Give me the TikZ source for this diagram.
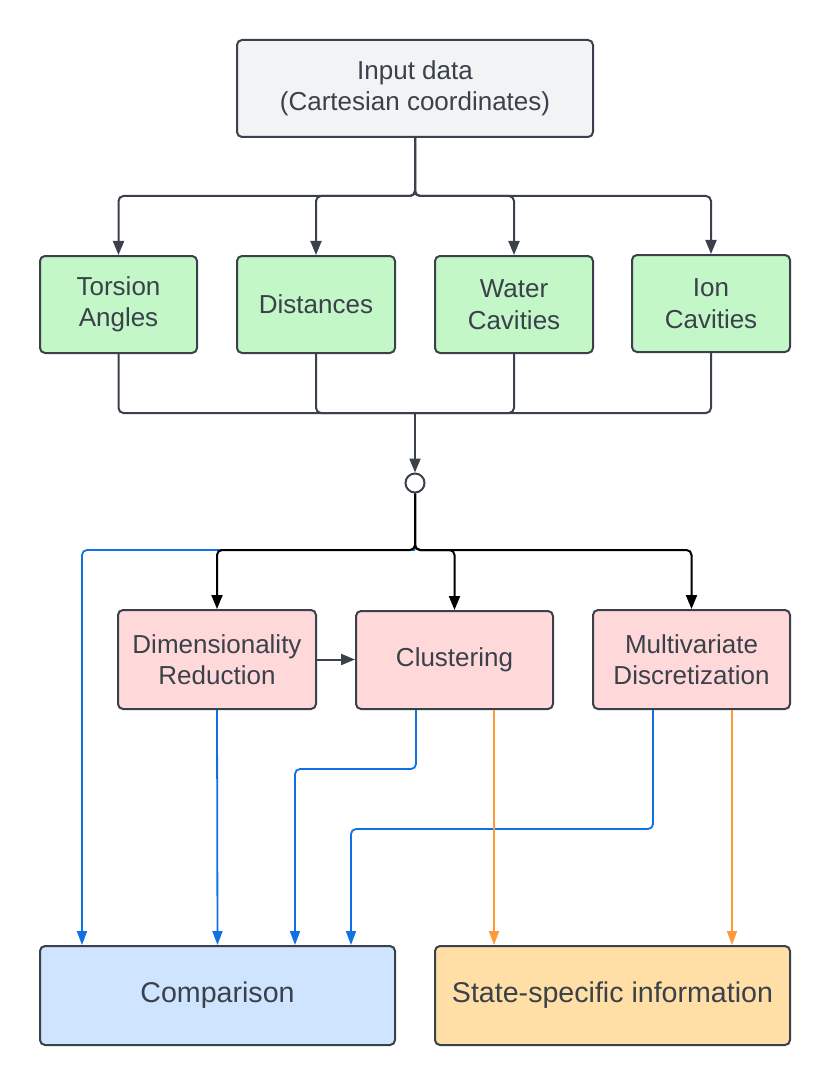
\documentclass[tikz,border=0pt]{standalone}
\usepackage{fontspec}
\setmainfont{Liberation Sans}
\usetikzlibrary{arrows.meta,calc}
\definecolor{strk}{HTML}{3A414A}
\definecolor{fin}{HTML}{F2F3F5}
\definecolor{fgreen}{HTML}{C3F7C8}
\definecolor{fred}{HTML}{FFD9D9}
\definecolor{fblue}{HTML}{CFE4FF}
\definecolor{forange}{HTML}{FFDFA6}
\definecolor{lblue}{HTML}{1071E5}
\definecolor{lorange}{HTML}{FF9A38}
\tikzset{
  box/.style={draw=strk, line width=2pt, rounded corners=5pt, align=center, text=strk,
    font=\fontsize{26}{31.5}\selectfont, inner sep=0pt},
  bigbox/.style={box, font=\fontsize{28.6}{34}\selectfont},
  conn/.style={draw=strk, line width=2pt, rounded corners=5pt, -{Triangle[length=14pt,width=11pt]}},
  conk/.style={conn, draw=black},
  conb/.style={conn, draw=lblue, line width=1.8pt, -{Triangle[length=14pt,width=10pt]}},
  cono/.style={conn, draw=lorange, line width=1.8pt, -{Triangle[length=14pt,width=10pt]}},
}
\begin{document}
\begin{tikzpicture}[x=1pt,y=-1pt]
\useasboundingbox (0,0) rectangle (830,1083);
\node[box, fill=fin, minimum width=356pt, minimum height=97pt] (in) at (415,88.5) {Input data\\(Cartesian coordinates)};
\node[box, fill=fgreen, minimum width=157pt, minimum height=97pt] (tor) at (118.5,304.5) {Torsion\\Angles};
\node[box, fill=fgreen, minimum width=158pt, minimum height=97pt] (dis) at (316,304.5) {Distances};
\node[box, fill=fgreen, minimum width=158pt, minimum height=97pt] (wat) at (514,304.5) {Water\\Cavities};
\node[box, fill=fgreen, minimum width=158pt, minimum height=97pt] (ion) at (711,303.5) {Ion\\Cavities};
\node[draw=strk, line width=2pt, circle, fill=white, minimum size=19pt, inner sep=0pt] (c) at (415,483) {};
\node[box, fill=fred, minimum width=198pt, minimum height=99pt] (dim) at (217,659.5) {Dimensionality\\Reduction};
\node[box, fill=fred, minimum width=197pt, minimum height=98pt] (clu) at (454.5,660) {Clustering};
\node[box, fill=fred, minimum width=197pt, minimum height=99pt] (mul) at (691.5,659.5) {Multivariate\\Discretization};
\node[bigbox, fill=fblue, minimum width=355pt, minimum height=99pt] (cmp) at (217.5,995.5) {Comparison};
\node[bigbox, fill=forange, minimum width=355pt, minimum height=99pt] (sta) at (612.5,995.5) {State-specific information};

\coordinate (j1) at (415,196);
\coordinate (j2) at (415,413);
\coordinate (j3) at (415,550);

\draw[conn] (in.south) -- (j1) -| (tor.north);
\draw[conn] (in.south) -- (j1) -| (dis.north);
\draw[conn] (in.south) -- (j1) -| (wat.north);
\draw[conn] (in.south) -- (j1) -| (ion.north);

\draw[draw=strk, line width=2pt, rounded corners=5pt] (tor.south) |- (j2);
\draw[draw=strk, line width=2pt, rounded corners=5pt] (dis.south) |- (j2);
\draw[draw=strk, line width=2pt, rounded corners=5pt] (wat.south) |- (j2);
\draw[draw=strk, line width=2pt, rounded corners=5pt] (ion.south) |- (j2);
\draw[conn] (j2) -- (c.north);

\draw[conb] (j3) -| ($(cmp.north)+(-135.5,0)$);
\draw[conk] (c.south) -- (j3) -| (dim.north);
\draw[conk] (c.south) -- (j3) -| (clu.north);
\draw[conk] (c.south) -- (j3) -| (mul.north);

\draw[conn] (dim.east) -- (dim.east -| clu.west);

\draw[conb] (dim.south) -- (cmp.north);
\draw[conb] ($(clu.south)+(-38.5,0)$) -- ++(0,59) -| ($(cmp.north)+(77.5,0)$);
\draw[conb] ($(mul.south)+(-38.5,0)$) -- ++(0,119) -| ($(cmp.north)+(133.5,0)$);
\draw[cono] ($(clu.south)+(39.5,0)$) -- ($(sta.north)+(-118.5,0)$);
\draw[cono] ($(mul.south)+(40.5,0)$) -- ($(sta.north)+(119.5,0)$);
\end{tikzpicture}
\end{document}
